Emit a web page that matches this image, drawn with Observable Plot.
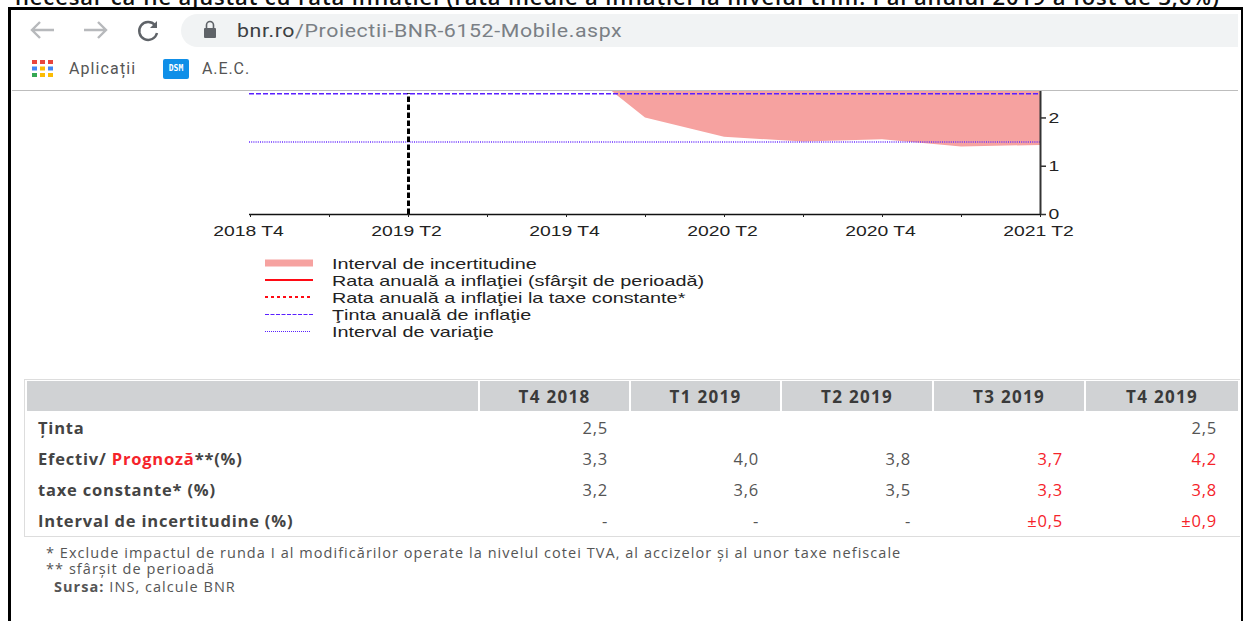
<!DOCTYPE html>
<html lang="ro">
<head>
<meta charset="utf-8">
<script src="https://cdn.jsdelivr.net/npm/d3@7"></script>
<script src="https://cdn.jsdelivr.net/npm/@observablehq/plot@0.6"></script>
<style>
html,body{margin:0;padding:0;background:#fff;overflow:hidden;width:1243px;height:621px}
.a{position:absolute;white-space:nowrap}
#frame{left:8px;top:7px;width:1230px;height:640px;border:3.5px solid #000;border-right-width:5px;box-sizing:content-box}
#clipt{left:15px;top:-16px;font:600 22px/24px "Open Sans";color:#111;letter-spacing:.85px}
.ui{font-family:Roboto,sans-serif;transform-origin:left center}
#tbl{left:24px;top:379px;width:1214px;border:1px solid #ddd;border-right:none;border-collapse:separate;border-spacing:2px 1px;table-layout:fixed;font-family:"Open Sans";font-size:16.500px;letter-spacing:.8px}
#tbl th{background:#d0d2d4;color:#3a3a3a;height:30px;padding:0;text-align:center;font-weight:700;font-size:17px;letter-spacing:1.300px}
#tbl td{height:30px;padding:0 21px 0 0;text-align:right;color:#555}
#tbl td.lab{text-align:left;padding:0 0 0 11px;font-weight:700;color:#444}
.red{color:#f5232a!important}
.note{font-family:"Open Sans";font-size:14.500px;color:#555;letter-spacing:1.050px;line-height:15px}
.leg{left:332px;font:15px/15px "Liberation Sans";color:#222;transform:scaleX(1.32);transform-origin:left center}
</style>
</head>
<body>
<div class="a" id="clipt">necesar ca fie ajustat cu rata inflației (rata medie a inflației la nivelul trim. I al anului 2019 a fost de 3,6%)</div>
<div class="a" style="left:8px;top:7px;width:1235px;height:614px;background:#fff"></div>
<div class="a" id="frame"></div>

<div class="a" style="left:181px;top:14px;width:1057px;height:33px;background:#f1f3f4;border-radius:17px 0 0 17px"></div>
<svg class="a" style="left:20px;top:14px" width="210" height="34" fill="none" stroke-width="2.4">
  <path d="M34 16H12M20 8l-8 8 8 8" stroke="#b7b9bc"/>
  <path d="M64 16h22M78 8l8 8-8 8" stroke="#b7b9bc"/>
  <path d="M135 11a9 9 0 1 0 2 8" stroke="#5f6368"/><path d="M137 7v7h-7z" fill="#5f6368"/>
  <rect x="184" y="14" width="12" height="10" rx="1" fill="#5f6368"/><path d="M186.500 14v-3a3.500 3.500 0 0 1 7 0v3" stroke="#5f6368" stroke-width="1.600"/>
</svg>
<div class="a ui" style="left:237px;top:20px;font-size:18px;line-height:21px;color:#7a7f85;letter-spacing:.5px;transform:scaleX(1.185)"><span style="color:#3c4043">bnr.ro</span>/Proiectii-BNR-6152-Mobile.aspx</div>
<svg class="a" style="left:32px;top:60px" width="22" height="17">
  <g id="dots"></g>
</svg>
<div class="a ui" style="left:69px;top:59px;font-size:16px;line-height:19px;color:#555;letter-spacing:1.100px">Aplicații</div>
<div class="a" style="left:163px;top:59px;width:26px;height:20px;background:#0f8fe8;border-radius:2px;color:#fff;font:700 8px/20px 'DejaVu Sans Mono';text-align:center">DSM</div>
<div class="a ui" style="left:202px;top:59px;font-size:16px;line-height:19px;color:#555;letter-spacing:.9px">A.E.C.</div>
<div class="a" style="left:12px;top:90px;width:1226px;height:1px;background:#bdbdbd"></div>

<div class="a" id="chart" style="left:200px;top:91px"></div>

<div id="legend"></div>
<table class="a" id="tbl"><colgroup id="cols"></colgroup><thead><tr id="hd"></tr></thead><tbody id="bd"></tbody></table>
<div class="a note" style="left:46px;top:545px">* Exclude impactul de runda I al modificărilor operate la nivelul cotei TVA, al accizelor și al unor taxe nefiscale</div>
<div class="a note" style="left:46px;top:561px">** sfârşit de perioadă</div>
<div class="a note" style="left:54px;top:579px"><b>Sursa:</b> INS, calcule BNR</div>

<script>
// ---- chart data ----
const quarters = ["2018 T4","2019 T1","2019 T2","2019 T3","2019 T4","2020 T1","2020 T2","2020 T3","2020 T4","2021 T1","2021 T2"];
const labelledQuarters = ["2018 T4","2019 T2","2019 T4","2020 T2","2020 T4","2021 T2"];
const bandQuarters = ["2019 T3","2019 T4","2020 T1","2020 T2","2020 T3","2020 T4","2021 T1","2021 T2"];
const bandLow  = [3.2,3.3,2.0,1.6,1.5,1.55,1.4,1.43];
const bandHigh = [4.2,5.1,4.4,4.4,4.6,4.8,4.8,4.9];
const targetRate = 2.5;
const variationLow = 1.5;
const forecastStart = "2019 T2";
const yTicks = [0,1,2];

// ---- legend ----
const legendLabels = ["Interval de incertitudine","Rata anuală a inflaţiei (sfârşit de perioadă)","Rata anuală a inflaţiei la taxe constante*","Ţinta anuală de inflaţie","Interval de variaţie"];
const legendColors = ["#f6a2a0","#ff0a14","#ff0a14","#5a20ff","#5a20ff"];
const legendWidths = [7,2,2,1,1];
const legendDashes = ["none","none","3,3","4,1.5","1,1"];

// ---- table ----
const tableHeads = ["","T4 2018","T1 2019","T2 2019","T3 2019","T4 2019"];
const tableCols = [451,149,149,150,150,152];
const rowTarget = ["2,5","","","","2,5"];
const rowActual = ["3,3","4,0","3,8","3,7","4,2"];
const rowConst = ["3,2","3,6","3,5","3,3","3,8"];
const rowBand = ["-","-","-","±0,5","±0,9"];
const redFrom = 3;

const band = bandQuarters.map((q,i)=>({q, lo:bandLow[i], hi:bandHigh[i]}));
const chart = Plot.plot({
  width: 900, height: 154,
  marginLeft: 49, marginRight: 60, marginTop: 0, marginBottom: 31,
  style: {background:"transparent", fontFamily:"Liberation Sans", fontSize:"15px", color:"#222", overflow:"visible"},
  x: {type:"point", domain:quarters, padding:0, label:null},
  y: {domain:[0,2.548], label:null},
  marks: [
    Plot.areaY(band,{x:"q",y1:"lo",y2:"hi",fill:"#f6a2a0",clip:true}),
    Plot.ruleY([targetRate],{stroke:"#5a20ff",strokeWidth:1.5,strokeDasharray:"5,2"}),
    Plot.ruleY([variationLow],{stroke:"#6a30ff",strokeWidth:1.5,strokeDasharray:"1,1.200"}),
    Plot.ruleX([forecastStart],{y1:0,y2:targetRate,stroke:"#000",strokeWidth:3,strokeDasharray:"5.500,2.500"}),
    Plot.ruleY([0],{stroke:"#111",strokeWidth:1.5}),
    Plot.ruleX([quarters[quarters.length-1]],{stroke:"#333",strokeWidth:2}),
    Plot.axisX({ticks:quarters,tickSize:3,tickPadding:8,stroke:"#222",tickFormat:d=>labelledQuarters.includes(d)?d:""}),
    Plot.axisY({anchor:"right",ticks:yTicks,tickSize:5,tickPadding:3,stroke:"#333",strokeWidth:1.5,label:null,tickFormat:d=>String(d)})
  ]
});
document.getElementById("chart").append(chart);
chart.querySelectorAll("text").forEach(t=>{
  const n = t.getComputedTextLength();
  if (n>0) { t.setAttribute("textLength", n*1.29); t.setAttribute("lengthAdjust","spacingAndGlyphs"); }
  if (n>30) t.setAttribute("dx",-2);
});

// legend
const lg = document.getElementById("legend");
legendLabels.forEach((t,i)=>{
  const y = 263 + i*17;
  const s = document.createElementNS("http://www.w3.org/2000/svg","svg");
  s.setAttribute("class","a"); s.setAttribute("width",50); s.setAttribute("height",10);
  s.style.left="264px"; s.style.top=(y-5)+"px";
  const l = document.createElementNS("http://www.w3.org/2000/svg","line");
  const ly = legendWidths[i]===1 ? 5.5 : 5;
  l.setAttribute("x1",1); l.setAttribute("x2",i===4?47:49); l.setAttribute("y1",ly); l.setAttribute("y2",ly);
  l.setAttribute("stroke",legendColors[i]); l.setAttribute("stroke-width",legendWidths[i]);
  l.setAttribute("stroke-dasharray",legendDashes[i]);
  s.append(l); lg.append(s);
  const d = document.createElement("div");
  d.className="a leg"; d.style.top=(y-7)+"px"; d.textContent=t; lg.append(d);
});

// apps-grid icon
const gridColors = ["#e8453c","#e8453c","#e8453c","#4285f4","#fbbc05","#4285f4","#34a853","#fbbc05","#fbbc05"];
document.getElementById("dots").innerHTML = gridColors.map((c,i)=>
  `<rect x="${(i%3)*8}" y="${Math.floor(i/3)*6.500}" width="5" height="4" fill="${c}"/>`).join("");

// table
document.getElementById("cols").innerHTML = tableCols.map(w=>`<col style="width:${w}px">`).join("");
document.getElementById("hd").innerHTML = tableHeads.map(h=>`<th>${h}</th>`).join("");
const rows = [
  ["Ţinta",rowTarget,false],
  ['Efectiv/ <span class="red">Prognoză</span>**(%)',rowActual,true],
  ["taxe constante* (%)",rowConst,true],
  ["Interval de incertitudine (%)",rowBand,true]
];
document.getElementById("bd").innerHTML = rows.map(([lab,vals,red])=>
  `<tr><td class="lab">${lab}</td>`+vals.map((v,i)=>`<td class="${red&&i>=redFrom?"red":""}">${v}</td>`).join("")+"</tr>").join("");
</script>
</body>
</html>
